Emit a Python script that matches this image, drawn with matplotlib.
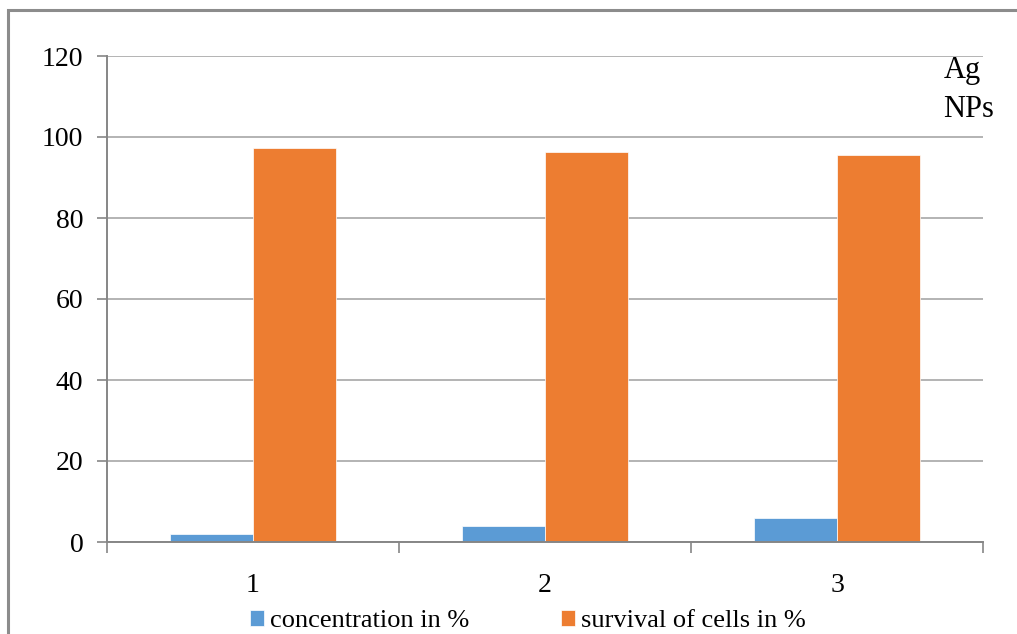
import numpy as np
import matplotlib.pyplot as plt
from matplotlib.patches import Rectangle

# Ag nanoparticle cytotoxicity data
categories = ['1', '2', '3']
concentration = [2, 4, 6]
survival = [97.3, 96.2, 95.5]
series_names = ['concentration in %', 'survival of cells in %']

plt.rcParams['font.family'] = ['Liberation Serif', 'DejaVu Serif']

fig = plt.figure(figsize=(10.17, 6.34), dpi=100)
ax = fig.add_axes([107 / 1017, 92 / 634, 876 / 1017, 486 / 634])

x = np.arange(len(categories))
width = 0.285
ax.bar(x - width / 2, concentration, width, color='#5B9BD5', edgecolor='white',
       linewidth=0.5, label=series_names[0], zorder=3)
ax.bar(x + width / 2, survival, width, color='#ED7D31', edgecolor='white',
       linewidth=0.5, label=series_names[1], zorder=3)

ax.set_xlim(-0.5, len(categories) - 0.5)
ax.set_ylim(0, 120)
ax.set_yticks(np.arange(0, 121, 20))
ax.yaxis.grid(True, color='#b3b3b3', linewidth=1.4, zorder=0)

# category labels at centres, tick marks at boundaries
ax.set_xticks(x)
ax.set_xticklabels(categories)
ax.tick_params(axis='x', length=0, pad=22, labelsize=20)
ax.set_xticks(np.arange(-0.5, len(categories)), minor=True)
ax.tick_params(axis='x', which='minor', length=8, width=1.2, color='#868686')
ax.tick_params(axis='y', length=7, width=1.2, color='#868686', labelsize=20, pad=10)

for s in ['top', 'right']:
    ax.spines[s].set_visible(False)
for s in ['left', 'bottom']:
    ax.spines[s].set_color('#868686')
    ax.spines[s].set_linewidth(1.4)
ax.spines['bottom'].set_zorder(4)

ax.text(0.955, 1.0, 'Ag\nNPs', transform=ax.transAxes, fontsize=22,
        ha='left', va='top', linespacing=1.45)

fig.legend(loc='lower center', bbox_to_anchor=(0.519, -0.035), ncol=2,
           frameon=False, fontsize=19, handlelength=0.53, handleheight=0.53,
           handletextpad=0.2, columnspacing=3.5)

# outer frame of the chart area
fig.patches.append(Rectangle((8 / 1017, -0.05), 1.2, 1 - 10 / 634 + 0.05,
                             transform=fig.transFigure, fill=False,
                             edgecolor='#8c8c8c', linewidth=2.2))

fig.savefig('out.png', dpi=100)
